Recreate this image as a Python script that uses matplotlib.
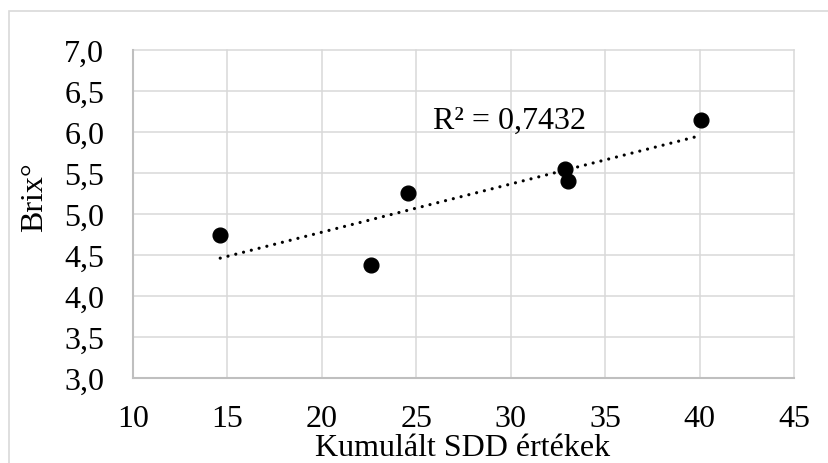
import numpy as np
import matplotlib
matplotlib.use("Agg")
import matplotlib.pyplot as plt
from matplotlib.patches import Rectangle

# Cumulative SDD values vs. Brix degree
sdd = [14.63, 22.60, 24.59, 32.88, 33.03, 40.08]
brix = [4.75, 4.375, 5.26, 5.55, 5.40, 6.14]

x_ticks = [10, 15, 20, 25, 30, 35, 40, 45]
x_tick_labels = ["10", "15", "20", "25", "30", "35", "40", "45"]
y_ticks = [3.0, 3.5, 4.0, 4.5, 5.0, 5.5, 6.0, 6.5, 7.0]
y_tick_labels = ["3,0", "3,5", "4,0", "4,5", "5,0", "5,5", "6,0", "6,5", "7,0"]

r2_label = "R² = 0,7432"
x_title = "Kumulált SDD értékek"
y_title = "Brix°"

plt.rcParams["font.family"] = ["Liberation Serif", "DejaVu Serif"]
FS = 23

W, H = 829, 464
fig = plt.figure(figsize=(W / 100, H / 100), dpi=100)
fig.patch.set_facecolor("white")

# outer chart frame
fig.add_artist(Rectangle((9 / W, -0.2), 1.2, 1.2 + (H - 12) / H - 1.0,
                         transform=fig.transFigure, fill=False,
                         edgecolor="#d9d9d9", linewidth=1.2))

left, right, top, bottom = 132.7, 794.3, 50.7, 379.3
ax = fig.add_axes([left / W, (H - bottom) / H, (right - left) / W, (bottom - top) / H])

ax.set_xlim(10, 45)
ax.set_ylim(3.0, 7.0)
ax.set_xticks(x_ticks)
ax.set_xticklabels(x_tick_labels, fontsize=FS)
ax.set_yticks(y_ticks)
ax.set_yticklabels(y_tick_labels, fontsize=FS)
ax.tick_params(axis="both", length=0)
ax.tick_params(axis="y", pad=20.5)
ax.tick_params(axis="x", pad=18.5)

ax.grid(True, color="#d9d9d9", linewidth=1.1)
for gl in ax.get_xgridlines() + ax.get_ygridlines():
    gl.set_clip_on(False)
ax.set_axisbelow(True)

for side in ("top", "right"):
    ax.spines[side].set_visible(False)
for side in ("left", "bottom"):
    ax.spines[side].set_color("#bfbfbf")
    ax.spines[side].set_linewidth(1.5)
    ax.spines[side].set_zorder(1.5)

# linear trendline over the data range
slope, intercept = np.polyfit(sdd, brix, 1)
xt = np.array([min(sdd), max(sdd)])
ax.plot(xt, slope * xt + intercept, color="black", linewidth=2.3,
        linestyle=(0, (0.01, 2.5)), dash_capstyle="round", zorder=3)

ax.plot(sdd, brix, "o", color="black", markersize=10.6, zorder=4)

ax.text(25.87, 6.043, r2_label, fontsize=FS, ha="left", va="baseline", zorder=5)

fig.text(463 / W, (H - 456) / H, x_title, fontsize=FS, ha="center", va="baseline")
fig.text(35 / W, (H - 197) / H, y_title, fontsize=FS, ha="center", va="center",
         rotation=90)

fig.savefig("out.png", dpi=100, facecolor="white")
